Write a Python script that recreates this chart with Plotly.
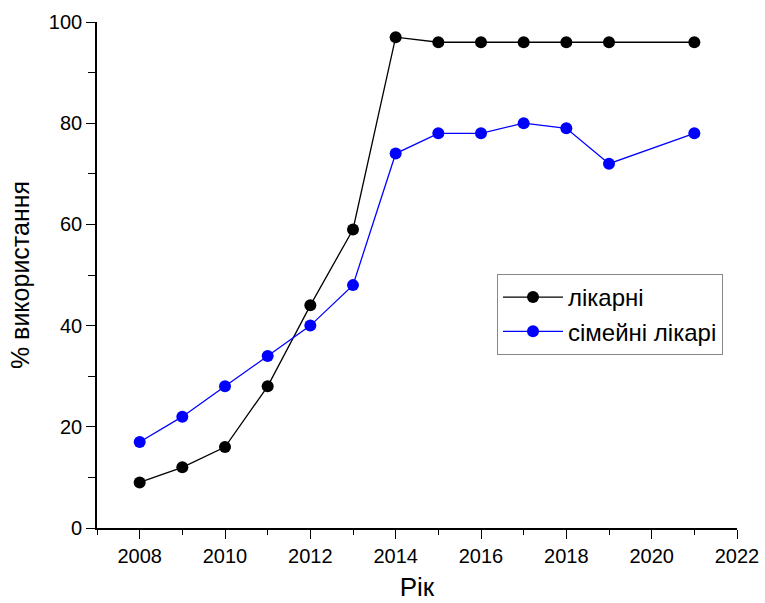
import plotly.graph_objects as go

# Частка використання за роками
years_hosp = [2008, 2009, 2010, 2011, 2012, 2013, 2014, 2015, 2016, 2017, 2018, 2019, 2021]
hospitals = [9, 12, 16, 28, 44, 59, 97, 96, 96, 96, 96, 96, 96]

years_fam = [2008, 2009, 2010, 2011, 2012, 2013, 2014, 2015, 2016, 2017, 2018, 2019, 2021]
family_doctors = [17, 22, 28, 34, 40, 48, 74, 78, 78, 80, 79, 72, 78]

x_ticks = [2008, 2010, 2012, 2014, 2016, 2018, 2020, 2022]
y_ticks = [0, 20, 40, 60, 80, 100]

FONT = "Liberation Sans, Arial, sans-serif"

fig = go.Figure()
fig.add_trace(go.Scatter(
    x=years_hosp, y=hospitals, name="лікарні", mode="lines+markers",
    line=dict(color="black", width=1.3),
    marker=dict(color="black", size=12),
))
fig.add_trace(go.Scatter(
    x=years_fam, y=family_doctors, name="сімейні лікарі", mode="lines+markers",
    line=dict(color="#0000ff", width=1.3),
    marker=dict(color="#0000ff", size=12),
))

axis_common = dict(
    showline=True, linecolor="black", linewidth=1.6,
    showgrid=False, zeroline=False, mirror=False, automargin=False,
    ticks="outside", ticklen=9, tickwidth=1.3, tickcolor="black",
    tickfont=dict(family=FONT, size=20, color="black"),
)

fig.update_xaxes(
    range=[2007, 2022], tickvals=x_ticks,
    minor=dict(ticks="outside", ticklen=5, tickwidth=1.3, tickcolor="black", dtick=1, tick0=2007),
    title=dict(text="Рік", font=dict(family=FONT, size=26, color="black"), standoff=12),
    **axis_common,
)
fig.update_yaxes(
    range=[0, 100], tickvals=y_ticks,
    minor=dict(ticks="outside", ticklen=7, tickwidth=1.3, tickcolor="black", dtick=10, tick0=0),
    title=dict(text="% використання", font=dict(family=FONT, size=25, color="black"), standoff=12),
    **axis_common,
)

fig.update_layout(
    width=765, height=603,
    paper_bgcolor="white", plot_bgcolor="white",
    margin=dict(l=97, r=28, t=22, b=75),
    legend=dict(
        x=0.625, y=0.502, xanchor="left", yanchor="top",
        bgcolor="white", bordercolor="#888888", borderwidth=1,
        font=dict(family=FONT, size=24, color="black"),
        tracegroupgap=0, itemwidth=60,
    ),
)

fig.write_html("out.html")
